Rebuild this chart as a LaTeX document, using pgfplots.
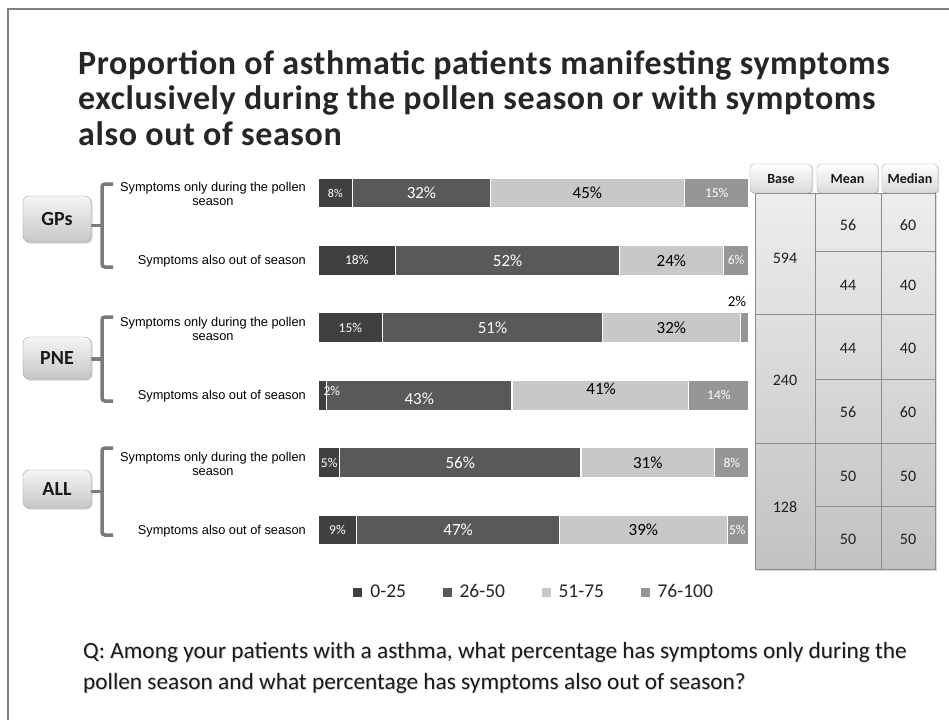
\documentclass[border=0pt]{standalone}
\usepackage{fontspec}
\setmainfont{Carlito}
\newfontfamily\titlefont{Carlito}[LetterSpace=1.8]
\newfontfamily\arialfont{Liberation Sans}
\usepackage{pgfplots}
\pgfplotsset{compat=1.18}
\usetikzlibrary{shadows}

\definecolor{cA}{HTML}{404040}
\definecolor{cB}{HTML}{595959}
\definecolor{cC}{HTML}{C8C8C8}
\definecolor{cD}{HTML}{969696}
\definecolor{framegray}{HTML}{808080}
\definecolor{bracegray}{HTML}{7A7A7A}
\definecolor{txt}{HTML}{262626}
\definecolor{gridgray}{HTML}{8C8C8C}

\newcommand\fs[2]{\fontsize{#1bp}{#2bp}\selectfont}
\tikzset{
  lbl/.style={inner sep=0pt, text=white, font=\fs{13.5}{15}},
  big/.style={inner sep=0pt, text=white, font=\fs{17}{19}},
}
\pgfplotsset{
  barframe/.style={
    at={(318bp,-159.3bp)}, anchor=north west,
    scale only axis, width=431bp, height=404.4bp,
    xmin=0, xmax=100, ymin=-0.5, ymax=5.5, y dir=reverse,
    hide axis, clip=false},
}

\begin{document}
\begin{tikzpicture}
\begin{scope}[x=1bp,y=-1bp]
  \path[use as bounding box, fill=white] (0,0) rectangle (949,720);
  \draw[framegray, line width=1.5bp] (8,722) -- (8,9) -- (951,9);

  % title
  \begin{scope}[every node/.style={anchor=base west, inner sep=0pt, text=txt, font=\titlefont\bfseries\fs{34}{36}}]
    \node at (78,75) {Proportion of asthmatic patients manifesting symptoms};
    \node at (78,110) {exclusively during the pollen season or with symptoms};
    \node at (78,146) {also out of season};
  \end{scope}

  % question
  \begin{scope}[every node/.style={anchor=base west, inner sep=0pt, font=\fs{23.3}{27}}]
    \node[text=black!15] at (84,659) {Q: Among your patients with a asthma, what percentage has symptoms only during the};
    \node[text=black!15] at (84,690) {pollen season and what percentage has symptoms also out of season?};
    \node[text=black!90] at (83,658) {Q: Among your patients with a asthma, what percentage has symptoms only during the};
    \node[text=black!90] at (83,689) {pollen season and what percentage has symptoms also out of season?};
  \end{scope}

  % row labels
  \begin{scope}[every node/.style={anchor=east, inner sep=0pt, align=center, text=black, font=\arialfont\fs{12.8}{13.5}}]
    \node at (306,194) {Symptoms only during the pollen\\season};
    \node at (306,261) {Symptoms also out of season};
    \node at (306,329) {Symptoms only during the pollen\\season};
    \node at (306,396) {Symptoms also out of season};
    \node at (306,464) {Symptoms only during the pollen\\season};
    \node at (306,531) {Symptoms also out of season};
  \end{scope}

  % braces
  \begin{scope}[bracegray, line width=3.5bp, rounded corners=3bp]
    \draw (113,184) -| (102,267) -- (113,267);
    \draw (102,225.5) -- (91,225.5);
    \draw (113,317) -| (102,401) -- (113,401);
    \draw (102,359) -- (91,359);
    \draw (113,448) -| (102,535) -- (113,535);
    \draw (102,491.5) -- (91,491.5);
  \end{scope}

  % group boxes
  \begin{scope}[every node/.style={draw=black!38, rounded corners=6bp, top color=white!96!black, bottom color=black!22,
      minimum width=68bp, inner sep=0pt, text=black!90, font=\bfseries\fs{20}{22},
      drop shadow={opacity=0.35, shadow xshift=1.5bp, shadow yshift=-1.5bp}}]
    \node[minimum height=46bp] at (57,219) {GPs};
    \node[minimum height=42bp] at (57,358) {PNE};
    \node[minimum height=38bp] at (57,489) {ALL};
  \end{scope}

  % summary table
  \path[draw=gridgray, line width=0.8bp, top color=black!7, bottom color=black!24,
    drop shadow={opacity=0.3, shadow xshift=1.5bp, shadow yshift=-1.5bp}] (755,193) rectangle (935,569);
  \begin{scope}[gridgray, line width=0.8bp]
    \draw (815,193) -- (815,569);
    \draw (881,193) -- (881,569);
    \draw (755,314) -- (935,314);
    \draw (755,443) -- (935,443);
    \draw (815,251) -- (935,251);
    \draw (815,379) -- (935,379);
    \draw (815,506) -- (935,506);
  \end{scope}
  \begin{scope}[every node/.style={draw=black!35, rounded corners=4bp, top color=white, bottom color=black!15,
      inner sep=0pt, text=black!90, font=\bfseries\fs{14}{16}, text height=10bp, text depth=0bp,
      drop shadow={opacity=0.3, shadow xshift=1.2bp, shadow yshift=-1.2bp}}]
    \node[minimum width=62bp, minimum height=29bp] at (781,178.5) {Base};
    \node[minimum width=61bp, minimum height=29bp] at (847.5,178.5) {Mean};
    \node[minimum width=56bp, minimum height=29bp] at (910,178.5) {Median};
  \end{scope}
  \begin{scope}[every node/.style={inner sep=0pt, text=black!88, font=\fs{16}{18}}]
    \node at (785,258) {594};
    \node at (785,380) {240};
    \node at (785,507) {128};
    \node at (848,225) {56};  \node at (908,225) {60};
    \node at (848,285) {44};  \node at (908,285) {40};
    \node at (848,348) {44};  \node at (908,348) {40};
    \node at (848,412) {56};  \node at (908,412) {60};
    \node at (848,476) {50};  \node at (908,476) {50};
    \node at (848,539) {50};  \node at (908,539) {50};
  \end{scope}
\end{scope}

% stacked bars
\begin{axis}[
  barframe,
  xbar stacked, bar width=30bp,
  every axis plot post/.append style={
    legend image code/.code={\fill[##1,draw=none] (0bp,-4.5bp) rectangle (9bp,4.5bp);}},
  legend style={at={(0.5046,-0.07)}, anchor=center, draw=none, fill=none,
    legend columns=4, font=\fs{19.5}{22}, text=txt, inner sep=0pt,
    nodes={inner xsep=4.5bp, inner ysep=0pt},
    /tikz/every odd column/.append style={column sep=3.5bp},
    /tikz/every even column/.append style={column sep=32bp}},
]
\addplot[fill=cA, draw=white, line width=1.2bp] coordinates {(8,0) (18,1) (15,2) (2,3) (5,4) (9,5)};
\addplot[fill=cB, draw=white, line width=1.2bp] coordinates {(32,0) (52,1) (51,2) (43,3) (56,4) (47,5)};
\addplot[fill=cC, draw=white, line width=1.2bp] coordinates {(45,0) (24,1) (32,2) (41,3) (31,4) (39,5)};
\addplot[fill=cD, draw=white, line width=1.2bp] coordinates {(15,0) (6,1) (2,2) (14,3) (8,4) (5,5)};
\legend{0-25, 26-50, 51-75, 76-100}
\end{axis}

% value labels, centred in their segments
\begin{axis}[barframe]
\node[lbl, font=\fs{12}{14}] at (axis cs:4,0) {8\%};
\node[big] at (axis cs:24,0) {32\%};
\node[big, text=black] at (axis cs:62.5,0) {45\%};
\node[lbl] at (axis cs:92.5,0) {15\%};

\node[lbl] at (axis cs:9,1) {18\%};
\node[big] at (axis cs:44,1) {52\%};
\node[big, text=black] at (axis cs:82,1) {24\%};
\node[lbl] at (axis cs:97,1) {6\%};

\node[lbl] at (axis cs:7.5,2) {15\%};
\node[big] at (axis cs:40.5,2) {51\%};
\node[big, text=black] at (axis cs:82,2) {32\%};
\node[lbl, text=black, font=\fs{15}{17}] at (axis cs:97.2,1.614) {2\%};

\node[lbl] at (axis cs:3.2,2.94) {2\%};
\node[big] at (axis cs:23.5,3.06) {43\%};
\node[big, text=black] at (axis cs:65.7,2.91) {41\%};
\node[lbl] at (axis cs:93,3) {14\%};

\node[lbl] at (axis cs:2.6,4) {5\%};
\node[big] at (axis cs:33,4) {56\%};
\node[big, text=black] at (axis cs:76.5,4) {31\%};
\node[lbl] at (axis cs:96,4) {8\%};

\node[lbl] at (axis cs:4.5,5) {9\%};
\node[big] at (axis cs:32.5,5) {47\%};
\node[big, text=black] at (axis cs:75.5,5) {39\%};
\node[lbl] at (axis cs:97.3,5) {5\%};
\end{axis}
\end{tikzpicture}
\end{document}
